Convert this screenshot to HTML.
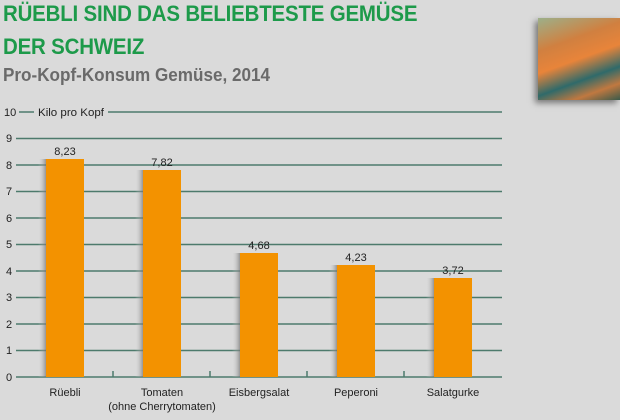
<!DOCTYPE html>
<html><head><style>
body{margin:0;width:620px;height:420px;background:#dadada;position:relative;overflow:hidden;font-family:"Liberation Sans",sans-serif}
.t{position:absolute;left:3px;color:#1d9a4a;font-weight:bold;font-size:22px;line-height:26px;letter-spacing:-0.2px;transform:scaleX(0.93);transform-origin:left;white-space:nowrap}
.s{position:absolute;left:3px;top:64px;color:#6a6a6a;font-weight:bold;font-size:18px;line-height:22px;transform:scaleX(0.95);transform-origin:left;white-space:nowrap}
</style></head><body>
<div class="t" style="top:1px">RÜEBLI SIND DAS BELIEBTESTE GEMÜSE</div>
<div class="t" style="top:34px">DER SCHWEIZ</div>
<div class="s">Pro-Kopf-Konsum Gemüse, 2014</div>
<div style="position:absolute;left:538px;top:18px;width:82px;height:82px;box-shadow:-3px 3px 6px #777;background:linear-gradient(160deg,#9cb08a 0%,#d08040 30%,#e8843a 50%,#2f6a6a 70%,#c07840 85%,#3a5a4a 100%)"></div>
<svg width="620" height="420" style="position:absolute;left:0;top:0" font-family="Liberation Sans, sans-serif" font-size="11">
<defs><linearGradient id="sh" x1="0" x2="1"><stop offset="0" stop-color="#dadada" stop-opacity="0"/><stop offset="1" stop-color="#777" stop-opacity="0.7"/></linearGradient></defs>
<g stroke="#4d7a6c" stroke-width="1.5">
<line x1="108" y1="112" x2="502" y2="112"/><line x1="19" y1="112" x2="34" y2="112"/>
<line x1="16" y1="138.5" x2="502" y2="138.5"/>
<line x1="16" y1="165" x2="502" y2="165"/>
<line x1="16" y1="191.5" x2="502" y2="191.5"/>
<line x1="16" y1="218" x2="502" y2="218"/>
<line x1="16" y1="244.5" x2="502" y2="244.5"/>
<line x1="16" y1="271" x2="502" y2="271"/>
<line x1="16" y1="297.5" x2="502" y2="297.5"/>
<line x1="16" y1="324" x2="502" y2="324"/>
<line x1="16" y1="350.5" x2="502" y2="350.5"/>
<line x1="16" y1="377" x2="502" y2="377"/>
<line x1="113" y1="371" x2="113" y2="377"/><line x1="210" y1="371" x2="210" y2="377"/><line x1="307" y1="371" x2="307" y2="377"/><line x1="404" y1="371" x2="404" y2="377"/>
</g>
<g fill="#222"><text x="4" y="116">10</text><text x="6" y="142">9</text><text x="6" y="169">8</text><text x="6" y="195">7</text><text x="6" y="222">6</text><text x="6" y="248">5</text><text x="6" y="275">4</text><text x="6" y="301">3</text><text x="6" y="328">2</text><text x="6" y="354">1</text><text x="6" y="381">0</text>
<text x="38" y="116" font-size="11" textLength="66" lengthAdjust="spacingAndGlyphs">Kilo pro Kopf</text></g>
<g fill="url(#sh)">
<rect x="38" y="159" width="8" height="218"/><rect x="135" y="170" width="8" height="207"/><rect x="232" y="253" width="8" height="124"/><rect x="329" y="265" width="8" height="112"/><rect x="426" y="278" width="8" height="99"/></g>
<g fill="#f39200">
<rect x="46" y="159" width="38" height="218"/><rect x="143" y="170" width="38" height="207"/><rect x="240" y="253" width="38" height="124"/><rect x="337" y="265" width="38" height="112"/><rect x="434" y="278" width="38" height="99"/></g>
<g fill="#222" text-anchor="middle">
<text x="65" y="155">8,23</text><text x="162" y="166">7,82</text><text x="259" y="249">4,68</text><text x="356" y="261">4,23</text><text x="453" y="274">3,72</text>
<text x="65" y="396">Rüebli</text><text x="162" y="396">Tomaten</text><text x="162" y="410">(ohne Cherrytomaten)</text><text x="259" y="396">Eisbergsalat</text><text x="356" y="396">Peperoni</text><text x="453" y="396">Salatgurke</text></g>
</svg>
</body></html>
